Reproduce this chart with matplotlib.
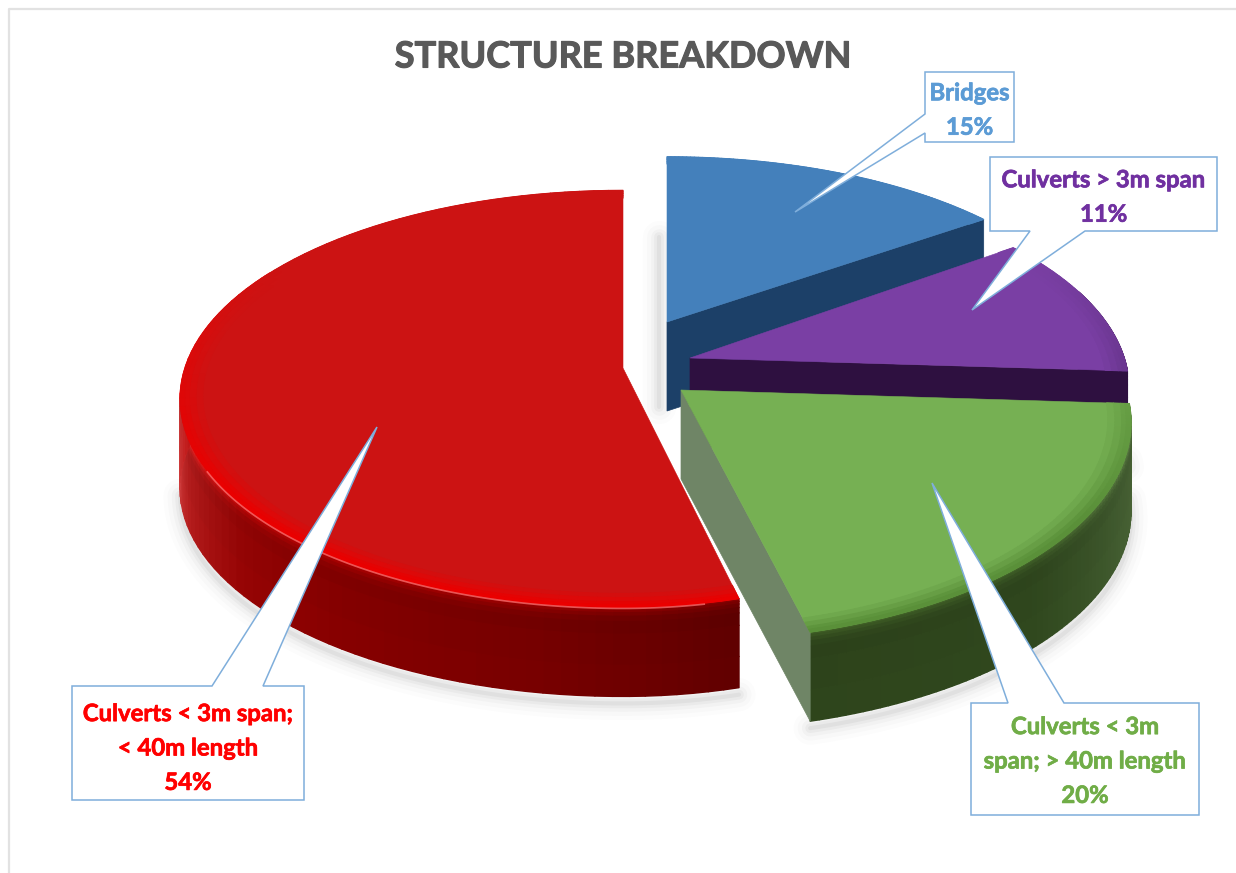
import numpy as np
import matplotlib
matplotlib.use("Agg")
import matplotlib.pyplot as plt
import matplotlib.patheffects as pe
from matplotlib.colors import to_rgb
from matplotlib.patches import Polygon
from matplotlib.collections import PolyCollection

plt.rcParams['font.family'] = ['Lato', 'DejaVu Sans']

# ---- data
categories = ["Bridges", "Culverts > 3m span", "Culverts < 3m\nspan; > 40m length",
              "Culverts < 3m span;\n< 40m length"]
values = [15, 11, 20, 54]
title = "STRUCTURE BREAKDOWN"

# ---- layout and style
W, H = 1236, 873
APEX = [(667, 322), (690, 358), (681, 390), (623, 368)]
SX_RIGHT = [0.985, 1.005, 1.03, 0.925]
SX_LEFT = [1.0, 1.0, 1.0, 1.014]
SY = [0.93, 1.0, 1.05, 1.0]
RX, RY, K, DEPTH = 432, 204, 0.148, 89
TOP = ["#4480BB", "#7A3FA4", "#76B053", "#CC1313"]
BEVEL = ["#4480BB", "#5E2F80", "#5A9039", "#EA0000"]
FACE = ["#1C4068", "#2E1040", "#6F8566", None]
WALL = [
    [(0, (28, 64, 104)), (360, (28, 64, 104))],
    [(0, (46, 16, 64)), (360, (46, 16, 64))],
    [(90, (78, 104, 58)), (112, (66, 92, 48)), (135, (48, 72, 30)), (170, (46, 68, 27))],
    [(165, (96, 0, 0)), (190, (120, 0, 0)), (215, (135, 0, 0)), (232, (150, 4, 4)),
     (250, (180, 28, 28)), (262, (205, 60, 60)), (275, (190, 20, 20)), (300, (190, 0, 0))],
]
TEXT_COL = ["#5B9BD5", "#7030A0", "#70AD47", "#FF0000"]
LINE = "#7FAEDB"
BOX = [(925, 72, 1014, 142), (990, 157, 1217, 231), (971, 703, 1199, 815), (72, 686, 304, 800)]
# tail: tip, then the two points where the tail leaves the box, in walking order
TAIL = [((795, 212), (925, 114), (925, 133), "left"),
        ((972, 310), (1030, 231), (1085, 231), "bottom"),
        ((932, 483), (1008, 703), (1064, 703), "top"),
        ((377, 427), (212, 686), (263, 686), "top")]
TEXT_DY = [3, 3, 2, 5]


def proj(theta, i, r=1.0, drop=0.0):
    """Angle clockwise from 12 o'clock (deg) to screen pixels with a perspective tilt."""
    t = np.radians(theta)
    u, v = r * np.sin(t), r * np.cos(t)
    s = 1 / (1 + K * v)
    sx = np.where(u >= 0, SX_RIGHT[i], SX_LEFT[i])
    return APEX[i][0] + RX * u * s * sx, APEX[i][1] - RY * v * s * SY[i] + drop


fig = plt.figure(figsize=(W / 100, H / 100), dpi=100, facecolor="white")
ax = fig.add_axes([0, 0, 1, 1])
ax.set_xlim(0, W)
ax.set_ylim(H, 0)
ax.axis("off")

# chart frame
ax.plot([8.5, 8.5, W], [H, 8.5, 8.5], color="#E2E2E2", lw=1.6, zorder=0)

fractions = np.array(values, dtype=float) / np.sum(values)
stops = np.concatenate([[0], np.cumsum(fractions) * 360])


def shadow(xs, ys, z, dx=0, dy=7):
    for lw, a in [(24, .012), (18, .016), (12, .022), (7, .03), (3, .04)]:
        ax.plot(np.asarray(xs) + dx, np.asarray(ys) + dy, color="k", alpha=a, lw=lw,
                solid_capstyle="round", zorder=z)


draw_order = [0, 1, 3, 2]
for n, i in enumerate(draw_order):
    z = 2 + n
    a0, a1 = stops[i], stops[i + 1]
    apex = APEX[i]
    th = np.linspace(a0, a1, 200)

    # soft shadow
    front = th[(th >= 92) & (th <= 262)]
    if len(front) > 2:
        x, y = proj(front, i, drop=DEPTH)
        shadow(x, y, 1)
    if i == 0:
        shadow([apex[0] - 8, apex[0] - 8], [apex[1] - 85, apex[1] + 85], 1, dy=0)

    # outer wall
    wth = np.linspace(max(a0, 70), min(a1, 300), 70)
    if wth[-1] > wth[0]:
        ts = np.array([0, .03, .06, .1, .16, .3, .65, 1.0])
        gain = [1.35, 1.22, 1.1, 1.0, .95, .98, 1.0, 1.0]
        st = WALL[i]
        angs = [p[0] for p in st]
        cols = np.array([p[1] for p in st], dtype=float) / 255
        polys, fc = [], []
        for j in range(len(wth) - 1):
            base = np.array([np.interp((wth[j] + wth[j + 1]) / 2, angs, cols[:, c]) for c in range(3)])
            for k in range(len(ts) - 1):
                q = [proj(wth[j], i, drop=DEPTH * ts[k]), proj(wth[j + 1], i, drop=DEPTH * ts[k]),
                     proj(wth[j + 1], i, drop=DEPTH * ts[k + 1]), proj(wth[j], i, drop=DEPTH * ts[k + 1])]
                polys.append(q)
                fc.append(np.clip(base * gain[k], 0, 1))
        ax.add_collection(PolyCollection(polys, facecolors=fc, edgecolors=fc, linewidths=1.0, zorder=z))

    # cut face at the end of the slice
    if FACE[i]:
        ex, ey = proj(a1, i)
        ax.add_patch(Polygon([apex, (float(ex), float(ey)), (float(ex), float(ey) + DEPTH),
                              (apex[0], apex[1] + DEPTH)],
                             closed=True, fc=FACE[i], ec=FACE[i], lw=.5, zorder=z))

    # top
    x, y = proj(th, i)
    ax.add_patch(Polygon(np.column_stack([np.r_[apex[0], x], np.r_[apex[1], y]]),
                         closed=True, fc=TOP[i], ec=TOP[i], lw=.4, zorder=z + .1))

    # bevelled rim, strongest towards the viewer
    rr = np.array([.95, .965, .98, .99, 1.0])
    rw = [.25, .55, .85, 1.0]
    bth = np.linspace(a0, a1, 90)
    polys, fc = [], []
    top_c, bev_c = np.array(to_rgb(TOP[i])), np.array(to_rgb(BEVEL[i]))
    for j in range(len(bth) - 1):
        mid = (bth[j] + bth[j + 1]) / 2
        w = np.clip((0.55 - np.cos(np.radians(mid))) / 1.1, 0, 1)
        for k in range(len(rr) - 1):
            q = [proj(bth[j], i, r=rr[k]), proj(bth[j + 1], i, r=rr[k]),
                 proj(bth[j + 1], i, r=rr[k + 1]), proj(bth[j], i, r=rr[k + 1])]
            polys.append(q)
            fc.append(top_c + (bev_c - top_c) * w * rw[k])
    ax.add_collection(PolyCollection(polys, facecolors=fc, edgecolors=fc, linewidths=.8, zorder=z + .2))

    if i == 3:
        # glossy highlight along the front rim
        hl = np.linspace(170, 242, 120)
        hx, hy = proj(hl, i, drop=1.0)
        ax.plot(hx, hy, color="#FF7A7A", lw=1.2, alpha=.7, zorder=z + .3)

# callouts
for (x0, y0, x1, y1), (tip, p, q, side), col, name, val, dy in zip(BOX, TAIL, TEXT_COL, categories, values, TEXT_DY):
    if side == "top":
        pts = [(x0, y0), p, tip, q, (x1, y0), (x1, y1), (x0, y1)]
    elif side == "bottom":
        pts = [(x0, y0), (x1, y0), (x1, y1), q, tip, p, (x0, y1)]
    else:
        pts = [(x0, y0), (x1, y0), (x1, y1), (x0, y1), q, tip, p]
    ax.add_patch(Polygon(pts, closed=True, fc="white", ec=LINE, lw=1.1, joinstyle="miter", zorder=20))
    ax.text((x0 + x1) / 2, (y0 + y1) / 2 + dy, f"{name}\n{val}%", color=col, ha="center", va="center",
            fontsize=17.2, fontweight="bold", linespacing=1.6, zorder=21,
            path_effects=[pe.withStroke(linewidth=0.5, foreground=col)])

ax.text(623, 57, title, color="#595959", ha="center", va="center",
        fontsize=26, fontweight="bold", zorder=21,
        path_effects=[pe.withStroke(linewidth=0.8, foreground="#595959")])

fig.savefig("out.png", dpi=100, facecolor="white")
